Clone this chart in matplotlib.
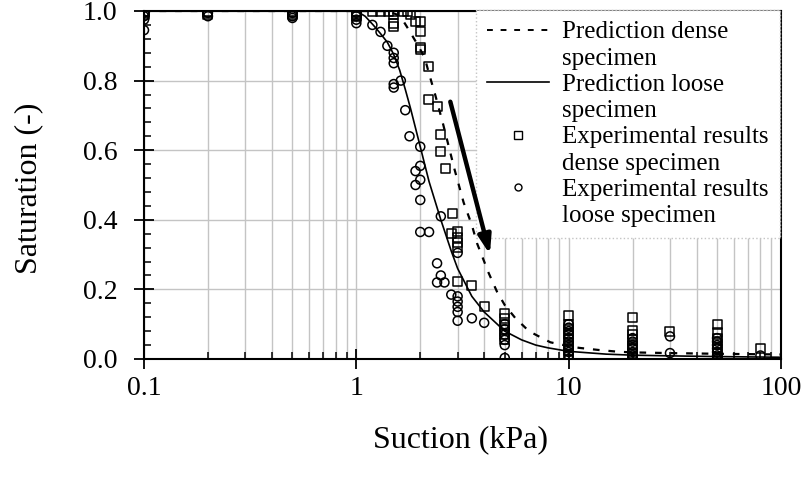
import matplotlib
matplotlib.use("Agg")
import matplotlib.pyplot as plt
from matplotlib.lines import Line2D
from matplotlib.ticker import LogLocator, FixedLocator, MultipleLocator, FixedFormatter

plt.rcParams['font.family'] = ['Liberation Serif', 'DejaVu Serif']

# Experimental results, dense specimen (squares)
dense_x = [0.1, 0.1, 0.1, 0.2, 0.2, 0.2, 0.5, 0.5, 0.5, 1.0, 1.0, 1.0, 1.0,
           1.19, 1.3, 1.42, 1.5, 1.5, 1.5, 1.5, 1.67, 1.74, 1.79, 1.9,
           2.0, 2.0, 2.0, 2.0, 2.18, 2.18, 2.4, 2.49, 2.49, 2.63, 2.84, 2.8,
           3.0, 3.0, 3.0, 3.0, 3.0, 3.5, 4.0,
           5, 5, 5, 5, 5, 5,
           10, 10, 10, 10, 10, 10, 10, 10,
           20, 20, 20, 20, 20, 20, 20, 20,
           30,
           50, 50, 50, 50, 50, 50, 50, 50,
           80]
dense_y = [1.0, 0.995, 0.99, 1.0, 0.995, 0.99, 1.0, 0.995, 0.99, 1.0, 0.995, 0.99, 0.985,
           1.0, 1.0, 1.0, 1.0, 0.99, 0.965, 0.955, 1.0, 1.0, 0.99, 0.97,
           0.97, 0.94, 0.895, 0.89, 0.84, 0.745, 0.725, 0.645, 0.595, 0.546, 0.417, 0.36,
           0.365, 0.35, 0.335, 0.32, 0.224, 0.21, 0.152,
           0.13, 0.115, 0.10, 0.085, 0.07, 0.055,
           0.126, 0.10, 0.085, 0.07, 0.055, 0.04, 0.025, 0.01,
           0.118, 0.083, 0.07, 0.055, 0.04, 0.03, 0.015, 0.005,
           0.078,
           0.10, 0.075, 0.06, 0.045, 0.03, 0.015, 0.005, 0.0,
           0.029]

# Experimental results, loose specimen (circles)
loose_x = [0.1, 0.1, 0.1, 0.1, 0.2, 0.2, 0.5, 0.5, 0.5, 1.0, 1.0, 1.0, 1.0,
           1.19, 1.3, 1.4, 1.5, 1.5, 1.5, 1.5, 1.5, 1.62, 1.7, 1.78,
           2.0, 2.0, 2.0, 2.0, 2.0, 1.9, 1.9, 2.5, 2.2, 3.0, 2.4, 2.4, 2.5, 2.6, 2.8,
           3.0, 3.0, 3.0, 3.0, 3.0, 3.5, 4.0,
           5, 5, 5, 5, 5, 5,
           10, 10, 10, 10, 10, 10, 10, 10, 10, 10, 10,
           20, 20, 20, 20, 20, 20, 20,
           30, 30,
           50, 50, 50, 50, 50, 50, 50,
           80]
loose_y = [0.995, 0.985, 0.975, 0.945, 0.995, 0.985, 0.995, 0.985, 0.98, 0.995, 0.985, 0.975, 0.965,
           0.96, 0.94, 0.90, 0.88, 0.865, 0.85, 0.79, 0.78, 0.80, 0.715, 0.64,
           0.61, 0.555, 0.515, 0.457, 0.365, 0.54, 0.50, 0.41, 0.365, 0.305, 0.275, 0.22, 0.24, 0.22, 0.185,
           0.18, 0.165, 0.15, 0.135, 0.11, 0.117, 0.104,
           0.10, 0.085, 0.07, 0.055, 0.04, 0.003,
           0.10, 0.09, 0.08, 0.07, 0.06, 0.05, 0.04, 0.03, 0.02, 0.01, 0.0,
           0.06, 0.05, 0.04, 0.03, 0.02, 0.01, 0.0,
           0.065, 0.017,
           0.06, 0.05, 0.04, 0.03, 0.02, 0.01, 0.0,
           0.01]

# Prediction curves
pred_dense_x = [0.1, 1.4, 1.55, 1.65, 1.77, 1.97, 2.1, 2.2, 2.35, 2.55, 2.9, 3.2, 3.5, 3.7,
                4.2, 4.6, 5.0, 5.6, 6.5, 7.5, 8.2, 10, 11.2, 13.8, 17, 20, 30, 50, 100]
pred_dense_y = [1.0, 1.0, 0.99, 0.975, 0.945, 0.897, 0.865, 0.82, 0.76, 0.68, 0.545, 0.45, 0.385, 0.333,
                0.247, 0.193, 0.155, 0.118, 0.08, 0.06, 0.048, 0.037, 0.032, 0.026, 0.021, 0.019, 0.017, 0.015, 0.013]
pred_loose_x = [0.1, 1.0, 1.1, 1.2, 1.3, 1.4, 1.5, 1.6, 1.7, 1.8, 2.0, 2.2, 2.5, 2.8, 3.0,
                3.5, 4.0, 5.0, 6.0, 7.0, 8.0, 10, 15, 20, 30, 50, 100]
pred_loose_y = [1.0, 1.0, 0.985, 0.96, 0.935, 0.91, 0.875, 0.83, 0.775, 0.72, 0.61, 0.51, 0.40, 0.31, 0.26,
                0.18, 0.135, 0.08, 0.055, 0.04, 0.032, 0.022, 0.014, 0.011, 0.009, 0.007, 0.005]

x_ticks = [0.1, 1, 10, 100]
x_ticklabels = ['0.1', '1', '10', '100']
y_ticks = [0.0, 0.2, 0.4, 0.6, 0.8, 1.0]
y_ticklabels = ['0.0', '0.2', '0.4', '0.6', '0.8', '1.0']

legend_labels = ['Prediction dense', 'specimen', 'Prediction loose', 'specimen',
                 'Experimental results', 'dense specimen', 'Experimental results', 'loose specimen']

fig = plt.figure(figsize=(8.08, 4.78), dpi=100)
ax = fig.add_axes([144/808, 1-359/478, (781-144)/808, (359-11)/478])

ax.set_xscale('log')
ax.set_xlim(0.1, 100)
ax.set_ylim(0, 1.0)

ax.grid(True, which='both', axis='x', color='#c4c4c4', linewidth=1.0, zorder=0)
ax.grid(True, which='major', axis='y', color='#c4c4c4', linewidth=1.0, zorder=0)
ax.set_axisbelow(True)

dash = (0, (3, 4))
ax.plot(pred_dense_x, pred_dense_y, linestyle=dash, color='black', linewidth=1.6, zorder=3)
ax.plot(pred_loose_x, pred_loose_y, linestyle='-', color='black', linewidth=1.2, zorder=3)
ax.scatter(dense_x, dense_y, marker='s', s=42, facecolors='none', edgecolors='black', linewidths=1.1, zorder=4)
ax.scatter(loose_x, loose_y, marker='o', s=42, facecolors='none', edgecolors='black', linewidths=1.1, zorder=4)

ax.xaxis.set_major_locator(FixedLocator(x_ticks))
ax.xaxis.set_major_formatter(FixedFormatter(x_ticklabels))
ax.xaxis.set_minor_locator(LogLocator(base=10, subs=[2, 3, 4, 5, 6, 7, 8, 9]))
ax.yaxis.set_major_locator(FixedLocator(y_ticks))
ax.yaxis.set_major_formatter(FixedFormatter(y_ticklabels))
ax.yaxis.set_minor_locator(MultipleLocator(0.04))

ax.tick_params(axis='both', which='major', direction='inout', length=14, width=1.3, labelsize=20)
ax.tick_params(axis='both', which='minor', direction='in', length=5, width=1.1)
ax.tick_params(axis='x', which='major', pad=5)
ax.tick_params(axis='y', which='major', pad=12)

for s in ['left', 'bottom', 'right', 'top']:
    ax.spines[s].set_linewidth(1.5)
    ax.spines[s].set_color('black')

ax.set_xlabel('Suction (kPa)', fontsize=23)
ax.set_ylabel('Saturation (-)', fontsize=23)
ax.xaxis.set_label_coords(0.497, -0.19)
ax.yaxis.set_label_coords(-0.158, 0.49)

blank = Line2D([], [], linestyle='none', marker=None)
handles = [
    Line2D([], [], linestyle=dash, color='black', linewidth=1.4), blank,
    Line2D([], [], linestyle='-', color='black', linewidth=1.2), blank,
    Line2D([], [], marker='s', linestyle='none', markersize=5.5, markerfacecolor='none',
           markeredgecolor='black', markeredgewidth=1.0), blank,
    Line2D([], [], marker='o', linestyle='none', markersize=5.0, markerfacecolor='none',
           markeredgecolor='black', markeredgewidth=1.0), blank,
]
leg = ax.legend(handles, legend_labels, loc='upper right', bbox_to_anchor=(0.998, 1.004), borderaxespad=0,
                fontsize=18, frameon=True, fancybox=False, framealpha=1, edgecolor='#c4c4c4',
                handlelength=2.5, handletextpad=0.5, labelspacing=0.15, borderpad=0.45)
leg.get_frame().set_linestyle(':')
leg.set_zorder(6)

arrow = ax.annotate('', xy=(4.29, 0.293), xytext=(2.75, 0.747),
                    arrowprops=dict(arrowstyle='-|>,head_length=1.1,head_width=0.38', color='black', lw=3.2))
arrow.set_zorder(7)
arrow.arrow_patch.set_zorder(7)

fig.savefig('out.png', dpi=100)
